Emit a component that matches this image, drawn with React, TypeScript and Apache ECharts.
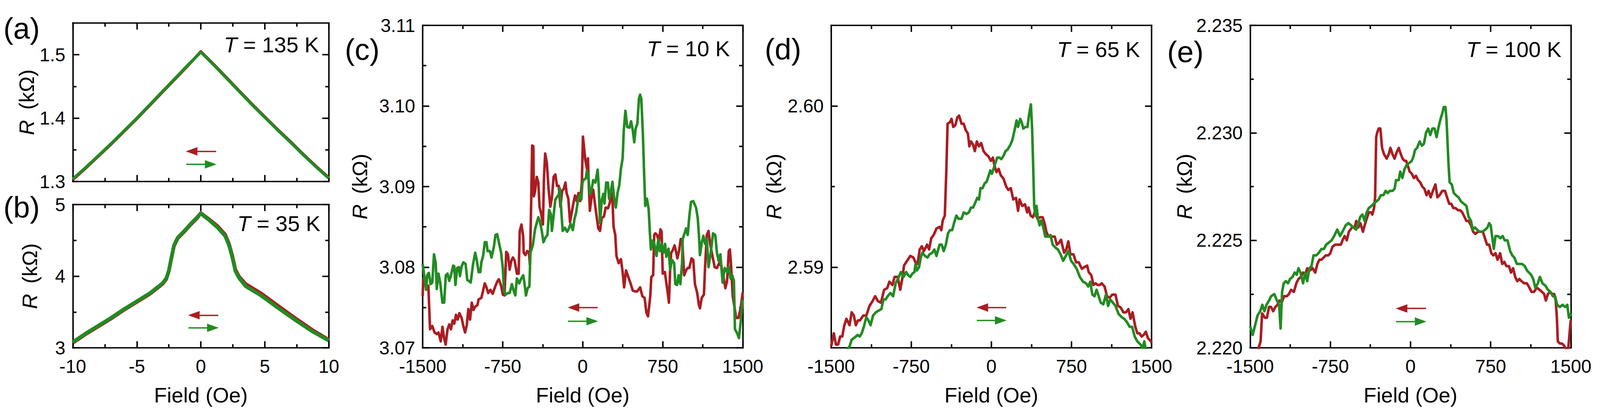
import React, { useEffect, useRef } from "react";
import * as echarts from "echarts";

const FONT = '"Liberation Sans", Arial, Helvetica, sans-serif';
const RED = "#AA1D22";
const GREEN = "#228B22";
const REF_W = 4724;
const REF_H = 1058;

// ---------- Panel (a): T = 135 K ----------
const aField = [-10, -9, -8, -7, -6, -5, -4, -3, -2, -1, -0.5, 0, 0.5, 1, 2, 3, 4, 5, 6, 7, 8, 9, 10];
const aGreen = [1.304, 1.322, 1.341, 1.36, 1.38, 1.4, 1.421, 1.442, 1.463, 1.484, 1.494, 1.504, 1.494, 1.484, 1.463, 1.442, 1.421, 1.401, 1.381, 1.362, 1.342, 1.323, 1.305];
const aRed = [1.303, 1.321, 1.34, 1.359, 1.379, 1.399, 1.42, 1.441, 1.462, 1.483, 1.494, 1.505, 1.495, 1.485, 1.464, 1.443, 1.422, 1.402, 1.382, 1.363, 1.343, 1.324, 1.306];

// ---------- Panel (b): T = 35 K ----------
const bField = [-10, -9, -8, -7, -6, -5, -4, -3.5, -3, -2.7, -2.5, -2.3, -2.1, -1.8, -1.3, -0.8, -0.3, 0, 0.3, 0.6, 1.3, 1.9, 2.2, 2.45, 2.7, 3, 3.5, 4.7, 6, 7.4, 8.7, 10];
const bGreen = [3.08, 3.2, 3.31, 3.42, 3.54, 3.65, 3.76, 3.83, 3.9, 3.97, 4.08, 4.26, 4.43, 4.54, 4.63, 4.73, 4.82, 4.88, 4.83, 4.79, 4.68, 4.56, 4.43, 4.27, 4.07, 3.97, 3.86, 3.73, 3.56, 3.385, 3.23, 3.1];
const bRed = [3.07, 3.19, 3.3, 3.41, 3.53, 3.64, 3.75, 3.82, 3.89, 3.96, 4.07, 4.25, 4.42, 4.53, 4.62, 4.72, 4.81, 4.88, 4.84, 4.8, 4.7, 4.58, 4.45, 4.29, 4.09, 3.99, 3.89, 3.76, 3.59, 3.41, 3.25, 3.11];

// ---------- Panel (c): T = 10 K  [field (Oe), R (kOhm)] ----------
const cRed: [number, number][] = [[-1500,3.0764],[-1495,3.0786],[-1463,3.0775],[-1447,3.0777],[-1431,3.0723],[-1410,3.0727],[-1389,3.0719],[-1368,3.0717],[-1352,3.0719],[-1331,3.0708],[-1315,3.0726],[-1299,3.0712],[-1285,3.0704],[-1267,3.0723],[-1251,3.0729],[-1235,3.0723],[-1220,3.0734],[-1204,3.073],[-1188,3.0741],[-1172,3.0735],[-1156,3.0743],[-1135,3.0737],[-1119,3.0727],[-1103,3.0719],[-1087,3.0728],[-1072,3.0748],[-1056,3.0735],[-1040,3.0756],[-1024,3.0747],[-1008,3.0751],[-987,3.0753],[-976,3.076],[-950,3.0762],[-934,3.0771],[-918,3.078],[-902,3.0775],[-886,3.0768],[-865,3.0772],[-844,3.0767],[-823,3.0775],[-802,3.0782],[-786,3.0785],[-765,3.0777],[-749,3.0766],[-733,3.0765],[-717,3.0819],[-701,3.0816],[-685,3.0797],[-669,3.0808],[-654,3.0812],[-638,3.0808],[-617,3.0792],[-601,3.0792],[-590,3.0845],[-574,3.0853],[-558,3.0838],[-553,3.0818],[-537,3.0815],[-521,3.082],[-505,3.0819],[-495,3.0803],[-484,3.0875],[-474,3.0951],[-463,3.095],[-458,3.0888],[-447,3.0894],[-431,3.0912],[-416,3.0905],[-405,3.0875],[-389,3.0866],[-373,3.0853],[-363,3.0912],[-352,3.0941],[-336,3.0929],[-320,3.0897],[-304,3.0875],[-289,3.0886],[-273,3.0912],[-257,3.0915],[-241,3.0901],[-225,3.0901],[-209,3.0875],[-193,3.0895],[-178,3.0897],[-162,3.0905],[-151,3.0892],[-135,3.0885],[-119,3.0856],[-103,3.0868],[-88,3.0879],[-72,3.0889],[-56,3.0882],[-40,3.0892],[-24,3.0882],[-8,3.0906],[2,3.0962],[24,3.0933],[40,3.0922],[49,3.0935],[56,3.0905],[67,3.087],[83,3.0887],[98,3.0896],[114,3.0879],[130,3.0863],[146,3.0848],[162,3.0845],[178,3.0861],[199,3.0863],[215,3.0874],[236,3.0873],[252,3.0879],[268,3.0892],[279,3.0883],[289,3.085],[305,3.084],[316,3.0814],[337,3.0805],[358,3.081],[374,3.0794],[388,3.0775],[406,3.0796],[427,3.0788],[448,3.078],[469,3.0771],[490,3.077],[511,3.077],[538,3.0775],[559,3.0764],[580,3.0762],[596,3.0744],[612,3.0739],[633,3.0764],[643,3.0788],[660,3.079],[670,3.084],[681,3.0842],[697,3.084],[713,3.0831],[729,3.0847],[739,3.0844],[750,3.0792],[770,3.0794],[781,3.0783],[797,3.0768],[808,3.0756],[819,3.0796],[829,3.0818],[840,3.082],[861,3.0827],[877,3.0818],[887,3.0811],[903,3.082],[919,3.0835],[935,3.0827],[951,3.079],[968,3.0796],[983,3.0799],[999,3.0799],[1020,3.0811],[1036,3.0809],[1052,3.0779],[1073,3.0768],[1089,3.0753],[1099,3.0749],[1115,3.0762],[1136,3.0766],[1147,3.0801],[1163,3.084],[1179,3.0845],[1194,3.0829],[1216,3.0814],[1237,3.08],[1258,3.0799],[1279,3.0805],[1300,3.0801],[1322,3.0786],[1337,3.0774],[1353,3.0783],[1369,3.082],[1379,3.0822],[1390,3.0803],[1406,3.0764],[1422,3.0751],[1438,3.0737],[1459,3.0737],[1480,3.0749],[1500,3.0769]];
const cGreen: [number, number][] = [[-1500,3.0804],[-1484,3.0788],[-1468,3.0772],[-1458,3.079],[-1442,3.0793],[-1426,3.0779],[-1410,3.0781],[-1394,3.0816],[-1378,3.0805],[-1368,3.0773],[-1352,3.0792],[-1336,3.0781],[-1315,3.0756],[-1299,3.0756],[-1283,3.079],[-1267,3.0792],[-1251,3.0783],[-1235,3.079],[-1214,3.0802],[-1204,3.0801],[-1193,3.0778],[-1177,3.0799],[-1161,3.08],[-1151,3.0789],[-1135,3.0801],[-1119,3.0806],[-1098,3.0804],[-1082,3.0784],[-1066,3.0783],[-1050,3.0781],[-1029,3.0803],[-1008,3.0818],[-992,3.0808],[-976,3.0794],[-960,3.0794],[-950,3.0806],[-934,3.0814],[-918,3.0831],[-902,3.0831],[-892,3.082],[-870,3.082],[-855,3.0812],[-833,3.0825],[-818,3.084],[-802,3.0841],[-786,3.0831],[-765,3.0818],[-749,3.0799],[-738,3.0771],[-722,3.0766],[-701,3.0768],[-685,3.0768],[-664,3.0779],[-648,3.0771],[-632,3.0765],[-617,3.0786],[-595,3.078],[-580,3.0785],[-558,3.079],[-548,3.0782],[-532,3.0765],[-516,3.0774],[-500,3.0776],[-490,3.0818],[-468,3.0827],[-447,3.0847],[-431,3.0855],[-416,3.0862],[-400,3.0856],[-384,3.0845],[-368,3.0831],[-352,3.0836],[-331,3.084],[-315,3.0871],[-299,3.0866],[-289,3.0845],[-273,3.0864],[-257,3.0884],[-241,3.0887],[-225,3.089],[-215,3.0898],[-199,3.0866],[-188,3.0845],[-167,3.0849],[-146,3.0844],[-130,3.0848],[-114,3.0854],[-93,3.0846],[-77,3.086],[-61,3.0868],[-45,3.0883],[-29,3.089],[-13,3.0884],[-3,3.0905],[13,3.0909],[29,3.091],[39,3.092],[51,3.0915],[67,3.0891],[83,3.0896],[98,3.0908],[119,3.0905],[140,3.0921],[151,3.0898],[162,3.0855],[178,3.0883],[193,3.0891],[204,3.0879],[220,3.0905],[236,3.0905],[247,3.0885],[263,3.0894],[279,3.0906],[295,3.0885],[310,3.0874],[326,3.0892],[343,3.0902],[358,3.0922],[374,3.0935],[385,3.097],[400,3.0994],[417,3.0974],[438,3.0973],[453,3.0981],[469,3.097],[483,3.0955],[496,3.0972],[512,3.0978],[527,3.1009],[538,3.1014],[549,3.1009],[564,3.0965],[575,3.0918],[586,3.0876],[602,3.0885],[618,3.0872],[628,3.0846],[639,3.0822],[655,3.0833],[671,3.0829],[692,3.0814],[708,3.0835],[723,3.082],[740,3.0829],[756,3.0818],[772,3.0829],[783,3.0813],[804,3.0823],[820,3.0797],[836,3.0809],[857,3.0805],[868,3.0779],[884,3.0778],[899,3.079],[915,3.0779],[931,3.0805],[937,3.0835],[952,3.0841],[968,3.0848],[984,3.084],[999,3.0863],[1015,3.0881],[1036,3.0882],[1062,3.0874],[1078,3.0861],[1089,3.084],[1099,3.0815],[1115,3.083],[1131,3.0839],[1147,3.0829],[1163,3.0835],[1179,3.08],[1200,3.0818],[1221,3.0842],[1242,3.084],[1258,3.0818],[1274,3.0808],[1290,3.0816],[1311,3.0781],[1332,3.0799],[1353,3.0794],[1369,3.0801],[1385,3.0786],[1401,3.079],[1417,3.0783],[1427,3.0723],[1448,3.0718],[1464,3.0712],[1480,3.0731],[1500,3.076]];

// ---------- Panel (d): T = 65 K ----------
const dRed: [number, number][] = [[-1500,2.5851],[-1475,2.5859],[-1455,2.5852],[-1435,2.5852],[-1416,2.5857],[-1396,2.5857],[-1377,2.5864],[-1357,2.5868],[-1328,2.5864],[-1308,2.5872],[-1288,2.587],[-1269,2.5864],[-1249,2.5867],[-1230,2.5867],[-1200,2.587],[-1171,2.587],[-1141,2.5876],[-1112,2.5879],[-1088,2.5882],[-1063,2.5879],[-1034,2.5878],[-1004,2.5886],[-975,2.5887],[-955,2.5891],[-926,2.5889],[-906,2.5894],[-877,2.5894],[-853,2.5886],[-834,2.5893],[-818,2.5901],[-789,2.5904],[-759,2.5907],[-730,2.5906],[-710,2.5903],[-691,2.5902],[-671,2.5911],[-651,2.5913],[-632,2.591],[-602,2.5914],[-583,2.5911],[-563,2.5918],[-540,2.592],[-514,2.5924],[-485,2.5925],[-469,2.5923],[-455,2.5929],[-436,2.5932],[-422,2.5959],[-410,2.5989],[-387,2.599],[-373,2.5992],[-357,2.5987],[-338,2.5988],[-318,2.5993],[-302,2.5994],[-279,2.5989],[-259,2.5989],[-240,2.5985],[-220,2.5983],[-206,2.5975],[-191,2.5978],[-171,2.5976],[-155,2.5972],[-136,2.5978],[-116,2.5975],[-96,2.5977],[-73,2.5972],[-50,2.597],[-30,2.5969],[-5,2.5966],[14,2.5968],[29,2.5963],[48,2.5959],[68,2.5961],[88,2.5957],[113,2.5955],[139,2.595],[158,2.5948],[182,2.5949],[205,2.5942],[231,2.5943],[250,2.5935],[264,2.5942],[289,2.5938],[315,2.5939],[335,2.5934],[348,2.5937],[368,2.5932],[388,2.5931],[407,2.5934],[433,2.593],[456,2.5931],[480,2.5931],[499,2.5927],[515,2.5922],[534,2.5919],[564,2.5919],[593,2.5919],[613,2.5914],[632,2.5915],[652,2.5917],[681,2.5909],[701,2.5911],[721,2.5916],[740,2.5908],[769,2.5908],[793,2.5903],[819,2.5903],[832,2.5901],[848,2.5899],[868,2.59],[897,2.5901],[911,2.5897],[936,2.5895],[956,2.5889],[976,2.589],[995,2.5889],[1015,2.5889],[1034,2.589],[1060,2.5888],[1083,2.5882],[1107,2.5881],[1132,2.5883],[1162,2.5883],[1185,2.5876],[1211,2.5875],[1236,2.5872],[1260,2.5872],[1283,2.5874],[1303,2.5868],[1322,2.5872],[1348,2.5863],[1367,2.5859],[1387,2.5859],[1407,2.5857],[1426,2.5858],[1446,2.586],[1466,2.5856],[1495,2.5854],[1500,2.5853]];
const dGreen: [number, number][] = [[-1500,2.5838],[-1420,2.5843],[-1347,2.5849],[-1327,2.5851],[-1308,2.5855],[-1288,2.5856],[-1269,2.5857],[-1253,2.5858],[-1233,2.5857],[-1214,2.5859],[-1194,2.5863],[-1171,2.5869],[-1151,2.5867],[-1131,2.5864],[-1108,2.587],[-1082,2.5872],[-1057,2.5873],[-1030,2.5874],[-1010,2.588],[-990,2.588],[-971,2.5882],[-945,2.5884],[-920,2.5882],[-896,2.589],[-873,2.5893],[-847,2.5897],[-822,2.5894],[-798,2.5897],[-779,2.5895],[-759,2.5894],[-740,2.5896],[-720,2.5897],[-710,2.5902],[-697,2.5898],[-677,2.59],[-661,2.5906],[-646,2.5909],[-622,2.5907],[-598,2.5906],[-579,2.5908],[-553,2.5909],[-534,2.5911],[-514,2.5907],[-485,2.5914],[-465,2.5914],[-446,2.591],[-426,2.5914],[-406,2.5921],[-387,2.5923],[-367,2.5923],[-347,2.5928],[-328,2.5932],[-308,2.593],[-279,2.593],[-259,2.5934],[-234,2.5933],[-210,2.5934],[-191,2.5937],[-171,2.5937],[-151,2.594],[-132,2.5943],[-116,2.5942],[-102,2.5949],[-83,2.5949],[-63,2.5952],[-44,2.5953],[-24,2.5957],[-10,2.596],[5,2.5958],[25,2.5962],[40,2.5965],[54,2.5968],[74,2.5968],[93,2.5967],[113,2.5969],[133,2.5972],[152,2.5973],[178,2.5976],[197,2.5979],[217,2.5985],[236,2.5991],[250,2.5987],[270,2.5992],[284,2.599],[299,2.5986],[319,2.5987],[338,2.5987],[354,2.5995],[370,2.6001],[381,2.5987],[391,2.5964],[401,2.5938],[411,2.5932],[423,2.5938],[436,2.593],[452,2.5926],[466,2.5929],[485,2.5925],[505,2.5919],[530,2.5919],[554,2.592],[574,2.5914],[603,2.5912],[623,2.5911],[648,2.5908],[672,2.5904],[697,2.5907],[721,2.591],[746,2.5904],[770,2.5902],[799,2.5899],[828,2.5894],[858,2.5891],[887,2.589],[907,2.5888],[926,2.5891],[946,2.5883],[966,2.5882],[985,2.5886],[1005,2.5882],[1024,2.5878],[1048,2.5877],[1073,2.5883],[1093,2.5876],[1113,2.588],[1138,2.5878],[1162,2.5876],[1191,2.5871],[1220,2.5869],[1244,2.5868],[1269,2.5866],[1295,2.5863],[1318,2.5863],[1342,2.5857],[1367,2.5854],[1397,2.5852],[1416,2.585],[1432,2.5854],[1446,2.5849],[1500,2.5845]];

// ---------- Panel (e): T = 100 K ----------
const eRed: [number, number][] = [[-1500,2.2186],[-1440,2.2192],[-1421,2.22],[-1402,2.2203],[-1388,2.2216],[-1362,2.2214],[-1343,2.2214],[-1323,2.2219],[-1304,2.2219],[-1284,2.2217],[-1264,2.2219],[-1245,2.222],[-1225,2.2222],[-1205,2.2221],[-1182,2.2224],[-1156,2.2224],[-1137,2.2225],[-1117,2.2227],[-1091,2.2226],[-1068,2.223],[-1048,2.2232],[-1025,2.2233],[-1005,2.2235],[-985,2.2234],[-966,2.2237],[-940,2.2236],[-915,2.2237],[-891,2.2235],[-871,2.2239],[-852,2.2241],[-832,2.2241],[-812,2.2242],[-793,2.2243],[-769,2.2243],[-750,2.2244],[-730,2.2247],[-704,2.2248],[-675,2.2248],[-651,2.2248],[-636,2.225],[-616,2.2252],[-596,2.225],[-577,2.2254],[-547,2.2256],[-522,2.2256],[-508,2.2259],[-488,2.2256],[-469,2.2258],[-445,2.2254],[-429,2.2257],[-410,2.226],[-390,2.2263],[-370,2.2263],[-357,2.2262],[-341,2.2265],[-331,2.227],[-321,2.2298],[-312,2.23],[-298,2.2302],[-282,2.2302],[-266,2.2293],[-247,2.229],[-223,2.2288],[-204,2.229],[-188,2.2293],[-168,2.229],[-149,2.2288],[-129,2.2291],[-110,2.2293],[-90,2.229],[-74,2.2288],[-55,2.2287],[-41,2.2287],[-27,2.2285],[-8,2.2282],[12,2.2281],[32,2.2279],[51,2.228],[71,2.2278],[91,2.2277],[110,2.2275],[130,2.2274],[150,2.2271],[169,2.2273],[189,2.227],[209,2.2273],[233,2.2276],[252,2.227],[272,2.2271],[297,2.2273],[323,2.2273],[342,2.227],[362,2.2267],[381,2.2267],[401,2.2265],[421,2.2265],[445,2.2264],[464,2.2264],[484,2.2263],[504,2.2261],[523,2.2259],[543,2.2259],[566,2.2257],[586,2.2254],[606,2.2253],[632,2.2254],[651,2.2254],[677,2.2254],[696,2.2251],[716,2.2248],[736,2.2248],[756,2.2244],[775,2.2243],[795,2.2244],[814,2.2241],[838,2.2244],[858,2.2239],[877,2.224],[897,2.2238],[921,2.2238],[940,2.2235],[960,2.2237],[979,2.2233],[999,2.2231],[1018,2.2232],[1038,2.2231],[1064,2.223],[1089,2.223],[1112,2.2228],[1132,2.2226],[1155,2.2226],[1181,2.2228],[1207,2.2227],[1230,2.2226],[1250,2.2225],[1266,2.2222],[1285,2.2225],[1305,2.2226],[1325,2.2225],[1344,2.2225],[1358,2.2222],[1368,2.2215],[1378,2.2203],[1397,2.2202],[1417,2.2202],[1437,2.2201],[1456,2.2199],[1476,2.22],[1495,2.2211],[1500,2.2213]];
const eGreen: [number, number][] = [[-1500,2.221],[-1476,2.2206],[-1451,2.2211],[-1431,2.2215],[-1406,2.2217],[-1386,2.222],[-1366,2.2217],[-1347,2.222],[-1323,2.2222],[-1304,2.2224],[-1274,2.2225],[-1249,2.2222],[-1229,2.222],[-1215,2.2209],[-1201,2.2226],[-1186,2.223],[-1166,2.2231],[-1146,2.223],[-1127,2.2232],[-1103,2.2233],[-1084,2.2235],[-1064,2.2234],[-1048,2.2237],[-1029,2.2235],[-1005,2.223],[-985,2.2235],[-966,2.2231],[-946,2.2237],[-926,2.2238],[-907,2.2243],[-881,2.2243],[-862,2.2244],[-832,2.2246],[-809,2.2246],[-789,2.2248],[-763,2.2249],[-738,2.225],[-714,2.2252],[-685,2.2255],[-659,2.2252],[-636,2.2254],[-606,2.2257],[-581,2.2258],[-557,2.2257],[-534,2.2256],[-508,2.2255],[-488,2.2258],[-469,2.2261],[-449,2.2262],[-429,2.2259],[-410,2.2263],[-390,2.2265],[-365,2.2266],[-345,2.2267],[-321,2.2268],[-298,2.2269],[-278,2.2271],[-253,2.2271],[-233,2.2273],[-214,2.2272],[-194,2.2273],[-168,2.2273],[-149,2.2274],[-135,2.2278],[-110,2.2278],[-96,2.2282],[-76,2.2279],[-57,2.2283],[-37,2.2285],[-12,2.2286],[12,2.2287],[28,2.2289],[42,2.2292],[61,2.2293],[86,2.2296],[106,2.2294],[126,2.2295],[145,2.23],[165,2.2302],[185,2.2299],[205,2.2302],[225,2.2302],[244,2.2298],[264,2.2303],[284,2.2307],[297,2.2309],[311,2.2312],[327,2.2312],[337,2.2306],[347,2.2295],[356,2.2285],[366,2.2277],[386,2.2276],[405,2.2272],[425,2.2271],[449,2.227],[474,2.2268],[499,2.2267],[523,2.2266],[543,2.2261],[566,2.2259],[582,2.2255],[602,2.2256],[622,2.2255],[645,2.2254],[671,2.2254],[700,2.2255],[720,2.2256],[736,2.2258],[750,2.2257],[763,2.2252],[779,2.2246],[795,2.2252],[818,2.2252],[842,2.2251],[862,2.2252],[881,2.225],[907,2.225],[932,2.2245],[952,2.2243],[971,2.2242],[995,2.2239],[1018,2.2239],[1044,2.2239],[1069,2.2238],[1089,2.2236],[1108,2.2235],[1128,2.2234],[1148,2.2232],[1167,2.2228],[1191,2.223],[1210,2.2233],[1234,2.223],[1260,2.2229],[1285,2.2227],[1309,2.2226],[1332,2.2224],[1352,2.2224],[1372,2.222],[1397,2.2219],[1422,2.222],[1446,2.2219],[1466,2.222],[1482,2.2214],[1500,2.2216]];

// ---------- Tick values ----------
const smallFieldMajor = [-10, -5, 0, 5, 10];
const smallFieldMinor = [-7.5, -2.5, 2.5, 7.5];
const fieldMajor = [-1500, -750, 0, 750, 1500];
const fieldMinor = [-1125, -375, 375, 1125];
const aRMajor = [1.3, 1.4, 1.5];
const aRMinor = [1.35, 1.45];
const bRMajor = [3, 4, 5];
const bRMinor = [3.5, 4.5];
const cRMajor = [3.07, 3.08, 3.09, 3.1, 3.11];
const cRMinor = [3.075, 3.085, 3.095, 3.105];
const dRMajor = [2.59, 2.6];
const dRMinor = [2.595];
const eRMajor = [2.22, 2.225, 2.23, 2.235];
const eRMinor = [2.2225, 2.2275, 2.2325];

const panelLetters = ["(a)", "(b)", "(c)", "(d)", "(e)"];
const temperatures = ["135", "35", "10", "65", "100"];

const pairs = (xs: number[], ys: number[]) => xs.map((x, i) => [x, ys[i]]);

type Panel = {
  grid: { left: number; top: number; width: number; height: number };
  xRange: [number, number]; xMajor: number[]; xMinor: number[]; showX: boolean;
  yRange: [number, number]; yMajor: number[]; yMinor: number[]; yDigits: number; yNameGap: number;
  red: number[][]; green: number[][]; lw: number;
  arrowRed: [number, number, number]; arrowGreen: [number, number, number];
  tPos: [number, number]; labelPos: [number, number];
};

// Layout in reference pixels (4724 x 1058); scaled to the real viewport at run time.
const panels: Panel[] = [
  {
    grid: { left: 215, top: 59, width: 756, height: 406 },
    xRange: [-10, 10], xMajor: smallFieldMajor, xMinor: smallFieldMinor, showX: false,
    yRange: [1.3, 1.55], yMajor: aRMajor, yMinor: aRMinor, yDigits: 1, yNameGap: 106,
    red: pairs(aField, aRed), green: pairs(aField, aGreen), lw: 8,
    arrowRed: [1.19, -0.72, 1.3476], arrowGreen: [-1.14, 0.77, 1.3271],
    tPos: [942, 114], labelPos: [10, 72],
  },
  {
    grid: { left: 215, top: 524, width: 756, height: 367 },
    xRange: [-10, 10], xMajor: smallFieldMajor, xMinor: smallFieldMinor, showX: true,
    yRange: [3, 5], yMajor: bRMajor, yMinor: bRMinor, yDigits: 0, yNameGap: 96,
    red: pairs(bField, bRed), green: pairs(bField, bGreen), lw: 10,
    arrowRed: [1.36, -0.55, 3.455], arrowGreen: [-0.97, 0.94, 3.279],
    tPos: [946, 572], labelPos: [10, 530],
  },
  {
    grid: { left: 1248, top: 65, width: 945, height: 826 },
    xRange: [-1500, 1500], xMajor: fieldMajor, xMinor: fieldMinor, showX: true,
    yRange: [3.07, 3.11], yMajor: cRMajor, yMinor: cRMinor, yDigits: 2, yNameGap: 155,
    red: cRed, green: cGreen, lw: 7,
    arrowRed: [140, -87, 3.075], arrowGreen: [-138, 89, 3.0733],
    tPos: [2155, 124], labelPos: [1018, 126],
  },
  {
    grid: { left: 2454, top: 65, width: 946, height: 826 },
    xRange: [-1500, 1500], xMajor: fieldMajor, xMinor: fieldMinor, showX: true,
    yRange: [2.585, 2.605], yMajor: dRMajor, yMinor: dRMinor, yDigits: 2, yNameGap: 138,
    red: dRed, green: dGreen, lw: 7,
    arrowRed: [139, -85, 2.5875], arrowGreen: [-136, 88, 2.5867],
    tPos: [3366, 126], labelPos: [2258, 125],
  },
  {
    grid: { left: 3691, top: 65, width: 947, height: 826 },
    xRange: [-1500, 1500], xMajor: fieldMajor, xMinor: fieldMinor, showX: true,
    yRange: [2.22, 2.235], yMajor: eRMajor, yMinor: eRMinor, yDigits: 3, yNameGap: 161,
    red: eRed, green: eGreen, lw: 7,
    arrowRed: [146, -84, 2.22183], arrowGreen: [-135, 95, 2.22122],
    tPos: [4610, 126], labelPos: [3446, 132],
  },
];

function buildOption(W: number, H: number) {
  const sx = W / REF_W;
  const sy = H / REF_H;
  const f = Math.sqrt(sx * sy);
  const X = (v: number) => v * sx;
  const Y = (v: number) => v * sy;
  const F = (v: number) => v * f;

  const makeAxis = (
    gridIndex: number, position: string, range: [number, number], ticks: number[],
    len: number, line: boolean, label: any, extra: any = {}
  ) => ({
    type: "value", gridIndex, position, min: range[0], max: range[1],
    splitLine: { show: false },
    axisLine: { show: line, onZero: false, lineStyle: { color: "#000", width: F(4), cap: "square" } },
    axisTick: { show: true, inside: true, length: F(len), customValues: ticks, lineStyle: { color: "#000", width: F(4) } },
    axisLabel: label ?? { show: false },
    minorTick: { show: false },
    axisPointer: { show: false },
    silent: true,
    ...extra,
  });

  const grid: any[] = [];
  const xAxis: any[] = [];
  const yAxis: any[] = [];
  const series: any[] = [];
  const graphic: any[] = [];
  const tickFont = { fontSize: F(51), fontFamily: FONT, color: "#000" };
  const nameFont = { fontSize: F(58), fontFamily: FONT, color: "#000" };

  panels.forEach((p, i) => {
    grid.push({
      left: X(p.grid.left), top: Y(p.grid.top), width: X(p.grid.width), height: Y(p.grid.height),
      containLabel: false, outerBoundsMode: "none",
    });
    const xLabel = p.showX
      ? { show: true, customValues: p.xMajor, margin: Y(24), ...tickFont, formatter: (v: number) => String(Math.round(v)) }
      : null;
    const xName = p.showX
      ? { name: "Field (Oe)", nameLocation: "middle", nameGap: Y(94), nameTextStyle: nameFont }
      : {};
    xAxis.push(makeAxis(i, "bottom", p.xRange, p.xMajor, 18, true, xLabel, xName));
    xAxis.push(makeAxis(i, "bottom", p.xRange, p.xMinor, 10, false, null));
    xAxis.push(makeAxis(i, "top", p.xRange, p.xMajor, 18, true, null));
    xAxis.push(makeAxis(i, "top", p.xRange, p.xMinor, 10, false, null));

    const yLabel = { show: true, customValues: p.yMajor, margin: X(22), ...tickFont, formatter: (v: number) => v.toFixed(p.yDigits) };
    const yName = {
      name: "{i|R} (k\u03A9)", nameLocation: "middle", nameGap: X(p.yNameGap), nameRotate: 90,
      nameTextStyle: { ...nameFont, rich: { i: { fontStyle: "italic", fontSize: F(58), fontFamily: FONT, color: "#000", padding: [0, F(12), 0, 0] } } },
    };
    yAxis.push(makeAxis(i, "left", p.yRange, p.yMajor, 18, true, yLabel, yName));
    yAxis.push(makeAxis(i, "left", p.yRange, p.yMinor, 10, false, null));
    yAxis.push(makeAxis(i, "right", p.yRange, p.yMajor, 18, true, null));
    yAxis.push(makeAxis(i, "right", p.yRange, p.yMinor, 10, false, null));

    const shaft = (color: string, a: [number, number, number]) => ({
      silent: true, animation: false, symbol: ["none", "none"],
      label: { show: false }, emphasis: { disabled: true },
      lineStyle: { color, width: F(4), type: "solid", opacity: 1 },
      data: [[{ coord: [a[0], a[2]] }, { coord: [a[1], a[2]] }]],
    });

    series.push({
      type: "line", name: "down", xAxisIndex: i * 4, yAxisIndex: i * 4,
      data: p.red, showSymbol: false, symbol: "none", clip: true, silent: true,
      lineStyle: { color: RED, width: F(p.lw), join: "round" }, itemStyle: { color: RED },
      markLine: shaft(RED, p.arrowRed), z: 2,
    });
    series.push({
      type: "line", name: "up", xAxisIndex: i * 4, yAxisIndex: i * 4,
      data: p.green, showSymbol: false, symbol: "none", clip: true, silent: true,
      lineStyle: { color: GREEN, width: F(p.lw), join: "round" }, itemStyle: { color: GREEN },
      markLine: shaft(GREEN, p.arrowGreen), z: 3,
    });
    // arrow heads
    series.push({
      type: "scatter", xAxisIndex: i * 4, yAxisIndex: i * 4, silent: true, z: 4,
      symbol: "triangle", symbolSize: [F(23), F(32)], symbolRotate: 90,
      itemStyle: { color: RED, opacity: 1 },
      data: [[p.arrowRed[1], p.arrowRed[2]]],
    });
    series.push({
      type: "scatter", xAxisIndex: i * 4, yAxisIndex: i * 4, silent: true, z: 4,
      symbol: "triangle", symbolSize: [F(23), F(32)], symbolRotate: -90,
      itemStyle: { color: GREEN, opacity: 1 },
      data: [[p.arrowGreen[1], p.arrowGreen[2]]],
    });

    graphic.push({
      type: "text", x: X(p.tPos[0]), y: Y(p.tPos[1]), silent: true,
      style: {
        text: `{i|T} = ${temperatures[i]} K`,
        rich: { i: { fontStyle: "italic", fontSize: F(60), fontFamily: FONT, fill: "#000" } },
        fontSize: F(60), fontFamily: FONT, fill: "#000", align: "right", verticalAlign: "middle",
      },
    });
    graphic.push({
      type: "text", x: X(p.labelPos[0]), y: Y(p.labelPos[1]), silent: true,
      style: { text: panelLetters[i], fontSize: F(82), fontFamily: FONT, fill: "#000", align: "left", verticalAlign: "middle" },
    });
  });

  return { animation: false, backgroundColor: "#fff", grid, xAxis, yAxis, series, graphic };
}

export default function App() {
  const ref = useRef<HTMLDivElement>(null);
  useEffect(() => {
    document.body.style.margin = "0";
    document.body.style.overflow = "hidden";
    document.documentElement.style.overflow = "hidden";
    const el = ref.current!;
    const W = el.clientWidth || REF_W;
    const H = el.clientHeight || REF_H;
    const chart = echarts.init(el, null, { renderer: "svg", width: W, height: H });
    chart.setOption(buildOption(W, H) as any);
    return () => chart.dispose();
  }, []);
  return <div ref={ref} style={{ width: "100vw", height: "100vh" }} />;
}
